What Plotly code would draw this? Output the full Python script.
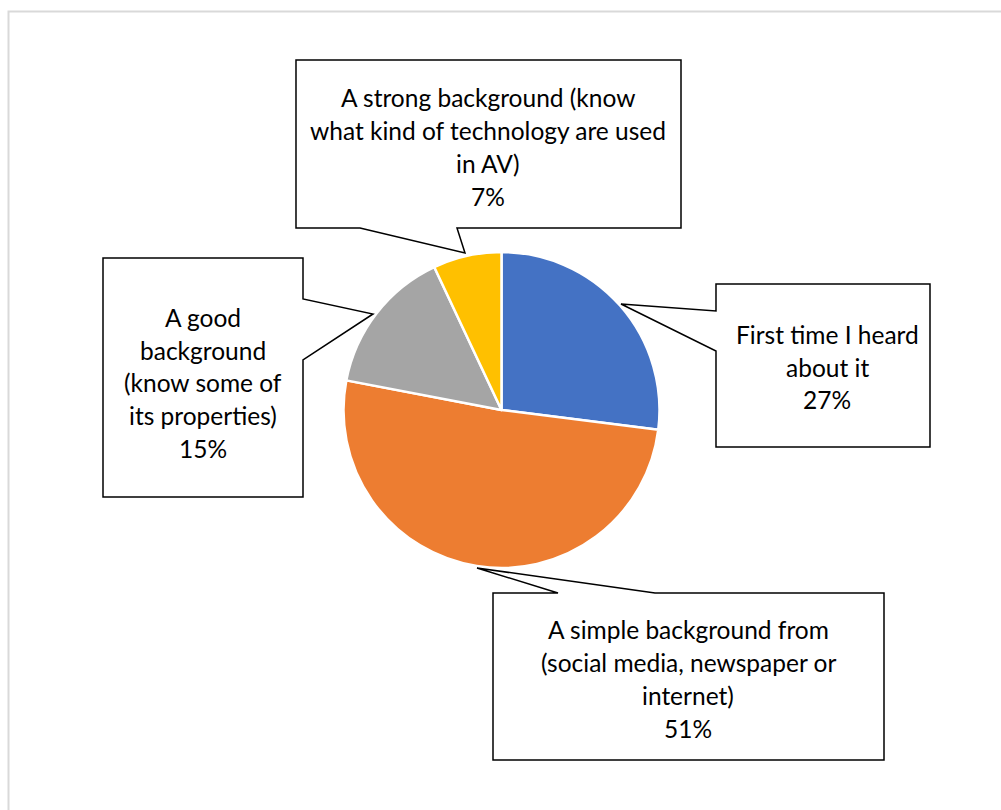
import plotly.graph_objects as go

W, H = 1001, 810

labels = [
    "First time I heard about it",
    "A simple background from (social media, newspaper or internet)",
    "A good background (know some of its properties)",
    "A strong background (know what kind of technology are used in AV)",
]
values = [27, 51, 15, 7]
colors = ["#4472C4", "#ED7D31", "#A5A5A5", "#FFC000"]
label_lines = [
    ["First time I heard", "about it"],
    ["A simple background from", "(social media, newspaper or", "internet)"],
    ["A good", "background", "(know some of", "its properties)"],
    ["A strong background (know", "what kind of technology are used", "in AV)"],
]

# callout layout (pixels): box x0, y0, x1, y1, pointer tip, pointer base pts, text center
callouts = [
    dict(box=(716, 284, 930, 447), side="left", base=(311, 351), tip=(621, 304), c=(827, 367)),
    dict(box=(493, 593, 884, 760), side="top", base=(558, 655), tip=(477, 568), c=(688, 679)),
    dict(box=(103, 258, 303, 497), side="right", base=(299, 360), tip=(373, 314), c=(203, 383)),
    dict(box=(296, 60, 681, 228), side="bottom", base=(360, 457), tip=(465, 253), c=(488, 147)),
]

def px(x):
    return x / W

def py(y):
    return 1 - y / H

total = sum(values)

fig = go.Figure()
cx, cy, r = 501.5, 410, 158
fig.add_trace(go.Pie(
    labels=labels,
    values=values,
    sort=False,
    direction="clockwise",
    rotation=0,
    marker=dict(colors=colors, line=dict(color="white", width=2.5)),
    textinfo="none",
    hoverinfo="label+percent",
    showlegend=False,
    domain=dict(x=[px(cx - r), px(cx + r)], y=[py(cy + r), py(cy - r)]),
))

shapes = []
# outer chart-area border
shapes.append(dict(type="rect", xref="paper", yref="paper",
                   x0=px(8.5), y0=py(11.5), x1=px(1015), y1=py(830),
                   line=dict(color="#D9D9D9", width=2), fillcolor="rgba(0,0,0,0)", layer="below"))

annotations = []
for i, co in enumerate(callouts):
    x0, y0, x1, y1 = co["box"]
    b1, b2 = co["base"]
    tx, ty = co["tip"]
    if co["side"] == "left":
        pts = [(x0, y0), (x1, y0), (x1, y1), (x0, y1), (x0, b2), (tx, ty), (x0, b1)]
    elif co["side"] == "right":
        pts = [(x0, y0), (x1, y0), (x1, b1), (tx, ty), (x1, b2), (x1, y1), (x0, y1)]
    elif co["side"] == "top":
        pts = [(x0, y0), (b1, y0), (tx, ty), (b2, y0), (x1, y0), (x1, y1), (x0, y1)]
    else:
        pts = [(x0, y0), (x1, y0), (x1, y1), (b2, y1), (tx, ty), (b1, y1), (x0, y1)]
    path = "M " + " L ".join(f"{px(a):.5f},{py(b):.5f}" for a, b in pts) + " Z"
    shapes.append(dict(type="path", xref="paper", yref="paper", path=path,
                       line=dict(color="black", width=1.5), fillcolor="white", layer="above"))
    lines = label_lines[i] + [f"{round(values[i] / total * 100)}%"]
    n = len(lines)
    tcx, tcy = co["c"]
    for j, t in enumerate(lines):
        yy = tcy + (j - (n - 1) / 2) * 32.7
        annotations.append(dict(text=t, x=px(tcx), y=py(yy), xref="paper", yref="paper",
                                showarrow=False, xanchor="center", yanchor="middle",
                                font=dict(family="Lato", size=24.5, color="#000000")))

fig.update_layout(
    width=W, height=H,
    margin=dict(l=0, r=0, t=0, b=0),
    paper_bgcolor="white",
    plot_bgcolor="white",
    shapes=shapes,
    annotations=annotations,
    showlegend=False,
)

fig.write_html("out.html")
